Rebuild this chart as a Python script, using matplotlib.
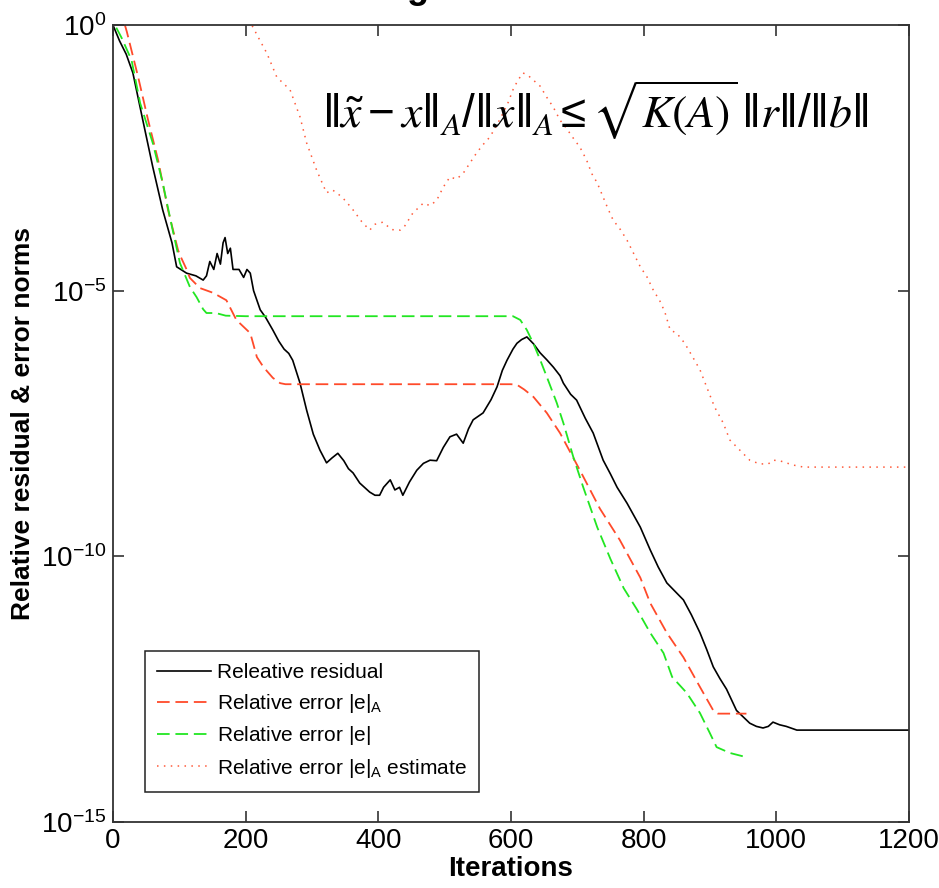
import numpy as np
import matplotlib
matplotlib.use("Agg")
import matplotlib.pyplot as plt
from matplotlib import font_manager

# ---------------------------------------------------------------------------
# Convergence history: iteration number and log10 of each quantity
# ---------------------------------------------------------------------------
res_it = [0, 10, 20, 30, 45, 60, 75, 89, 96, 111, 125, 136, 141, 146, 152, 157,
          162, 166, 169, 173, 177, 181, 190, 197, 202, 207, 212, 217, 222, 230,
          241, 250, 258, 265, 271, 282, 292, 302, 312, 322, 330, 339, 348, 355,
          362, 372, 387, 395, 402, 408, 418, 425, 432, 437, 447, 458, 468, 478,
          488, 498, 508, 518, 528, 536, 543, 558, 570, 579, 587, 594, 603, 609,
          616, 624, 634, 644, 654, 664, 674, 679, 690, 699, 712, 724, 739, 750,
          760, 775, 795, 810, 822, 835, 860, 872, 885, 895, 905, 915, 925, 940,
          950, 960, 970, 980, 988, 995, 1005, 1015, 1031, 1200]
res_log = [0.0, -0.3, -0.55, -0.9, -1.79, -2.67, -3.48, -4.1, -4.55, -4.67, -4.72,
           -4.8, -4.72, -4.45, -4.6, -4.3, -4.5, -4.1, -4.0, -4.3, -4.2, -4.6,
           -4.6, -4.75, -4.6, -4.67, -5.0, -5.18, -5.36, -5.5, -5.74, -5.95,
           -6.1, -6.18, -6.31, -6.74, -7.25, -7.7, -8.0, -8.24, -8.15, -8.06,
           -8.2, -8.35, -8.43, -8.62, -8.79, -8.85, -8.85, -8.7, -8.56, -8.75,
           -8.7, -8.85, -8.6, -8.38, -8.25, -8.19, -8.2, -7.95, -7.75, -7.7,
           -7.87, -7.6, -7.43, -7.3, -7.05, -6.81, -6.5, -6.31, -6.1, -5.99,
           -5.92, -5.87, -6.0, -6.17, -6.3, -6.44, -6.6, -6.74, -6.95, -7.06,
           -7.4, -7.68, -8.19, -8.45, -8.7, -9.0, -9.45, -9.88, -10.2, -10.5,
           -10.82, -11.1, -11.44, -11.75, -12.08, -12.3, -12.5, -12.9, -13.02,
           -13.14, -13.2, -13.23, -13.2, -13.12, -13.17, -13.2, -13.27, -13.27]

errA_it = [18, 21, 38, 53, 68, 83, 98, 101, 111, 116, 131, 151, 171, 186, 207,
           217, 227, 241, 252, 260, 600, 609, 620, 634, 654, 674, 704, 734, 764,
           795, 810, 835, 860, 885, 905, 912, 955]
errA_log = [0.0, -0.13, -0.98, -1.79, -2.54, -3.48, -4.23, -4.33, -4.6, -4.76,
            -4.95, -5.04, -5.18, -5.55, -5.8, -6.25, -6.44, -6.64, -6.74, -6.76,
            -6.76, -6.77, -6.86, -7.0, -7.3, -7.68, -8.38, -9.1, -9.69, -10.4,
            -10.88, -11.44, -11.9, -12.46, -12.9, -12.96, -12.96]

err_it = [5, 13, 28, 41, 60, 75, 89, 101, 116, 126, 136, 141, 155, 170, 200, 603,
          614, 624, 634, 644, 654, 669, 679, 694, 709, 730, 750, 770, 790, 810,
          830, 843, 865, 885, 900, 910, 930, 955]
err_log = [-0.05, -0.24, -0.66, -1.47, -2.22, -2.97, -3.8, -4.48, -4.93, -5.12,
           -5.35, -5.42, -5.42, -5.47, -5.48, -5.48, -5.55, -5.74, -6.0, -6.3,
           -6.62, -7.11, -7.49, -8.13, -8.7, -9.45, -10.05, -10.6, -11.0, -11.44,
           -11.82, -12.27, -12.57, -12.95, -13.33, -13.59, -13.7, -13.78]

est_it = [205, 211, 222, 232, 247, 257, 267, 282, 292, 307, 322, 330, 337, 350,
          362, 375, 387, 395, 407, 420, 433, 440, 452, 468, 478, 488, 498, 508,
          518, 528, 538, 548, 558, 568, 578, 588, 596, 603, 610, 618, 626, 634,
          644, 654, 664, 674, 684, 694, 704, 714, 722, 730, 739, 746, 754, 765,
          775, 785, 795, 805, 815, 824, 832, 840, 850, 862, 875, 885, 895, 907,
          920, 930, 945, 960, 975, 988, 995, 1005, 1025, 1041, 1200]
est_log = [0.1, -0.04, -0.3, -0.53, -0.98, -1.1, -1.22, -1.73, -2.22, -2.73,
           -3.16, -3.1, -3.15, -3.3, -3.48, -3.7, -3.86, -3.75, -3.71, -3.85,
           -3.86, -3.78, -3.54, -3.35, -3.4, -3.3, -3.05, -2.86, -2.9, -2.79,
           -2.6, -2.41, -2.25, -2.11, -1.9, -1.66, -1.45, -1.22, -1.05, -0.9,
           -0.95, -1.04, -1.15, -1.36, -1.55, -1.79, -1.95, -2.13, -2.3, -2.54,
           -2.8, -2.97, -3.24, -3.45, -3.67, -3.85, -4.05, -4.3, -4.55, -4.74,
           -5.0, -5.18, -5.4, -5.74, -5.8, -5.99, -6.27, -6.49, -6.81, -7.19,
           -7.49, -7.81, -8.0, -8.19, -8.26, -8.26, -8.19, -8.2, -8.28, -8.32,
           -8.32]

series_labels = ["Releative residual",
                 r"Relative error $|e|_A$",
                 r"Relative error $|e|$",
                 r"Relative error $|e|_A$ estimate"]

x_ticks = [0, 200, 400, 600, 800, 1000, 1200]
y_exponents = [0, -5, -10, -15]

# ---------------------------------------------------------------------------
installed = {f.name for f in font_manager.fontManager.ttflist}
narrow = "Liberation Sans Narrow" if "Liberation Sans Narrow" in installed else "Liberation Sans"

plt.rcParams["font.family"] = [narrow, "DejaVu Sans"]
plt.rcParams["mathtext.fontset"] = "stix"
plt.rcParams["mathtext.default"] = "regular"

fig = plt.figure(figsize=(9.39, 8.88), dpi=100)
ax = fig.add_axes([0.1203, 0.0743, 0.8477, 0.8975])

ax.semilogy(res_it, 10.0 ** np.array(res_log), color="black", lw=1.2,
            label=series_labels[0])
ax.semilogy(errA_it, 10.0 ** np.array(errA_log), color="#ff4a2a", lw=1.3,
            dashes=(7, 3.2), label=series_labels[1])
ax.semilogy(err_it, 10.0 ** np.array(err_log), color="#22e622", lw=1.3,
            dashes=(7, 3.2), label=series_labels[2])
ax.semilogy(est_it, 10.0 ** np.array(est_log), color="#ff5a3a", lw=1.1,
            dashes=(1, 3.5), label=series_labels[3])

ax.set_xlim(0, 1200)
ax.set_ylim(1e-15, 1e0)
ax.set_xticks(x_ticks)
ax.set_yticks([10.0 ** e for e in y_exponents])
ax.set_yticklabels([r"$10^{%d}$" % e for e in y_exponents])
ax.yaxis.set_minor_locator(matplotlib.ticker.NullLocator())
ax.tick_params(which="both", direction="in", length=8, width=1.1,
               top=True, right=True, labelsize=20, color="#222222")
ax.tick_params(axis="x", pad=4)
ax.tick_params(axis="y", pad=5)

for s in ax.spines.values():
    s.set_linewidth(1.3)
    s.set_color("#333333")

ax.set_xlabel("Iterations", fontsize=20, fontweight="bold", labelpad=2)
ax.set_ylabel("Relative residual & error norms", fontsize=19,
              fontweight="bold", labelpad=4)

# bound relating the A-norm error to the relative residual
ax.text(0.606, 0.893,
        r"$\Vert\tilde{\mathit{x}}-\mathit{x}\Vert_{\mathit{A}}/\Vert\mathit{x}\Vert_{\mathit{A}}"
        r"\leq\sqrt{\mathit{K}\left(\mathit{A}\right)}\,\Vert\mathit{r}\Vert/\Vert\mathit{b}\Vert$",
        transform=ax.transAxes, ha="center", va="center", fontsize=33)

leg = ax.legend(loc="lower left", bbox_to_anchor=(0.040, 0.0376),
                prop={"family": ["Liberation Sans", "DejaVu Sans"], "size": 15},
                frameon=True, fancybox=False, framealpha=1.0,
                edgecolor="#222222", handlelength=2.6, handletextpad=0.25,
                labelspacing=0.45, borderpad=0.6, borderaxespad=0)
leg.get_frame().set_linewidth(1.1)

# title descender peeking in at the top edge
fig.text(418 / 939, 1.0 + 2 / 888, "g", fontsize=26, fontweight="bold",
         ha="center", va="baseline", family=["Liberation Sans", "DejaVu Sans"])

fig.savefig("out.png", dpi=100)
